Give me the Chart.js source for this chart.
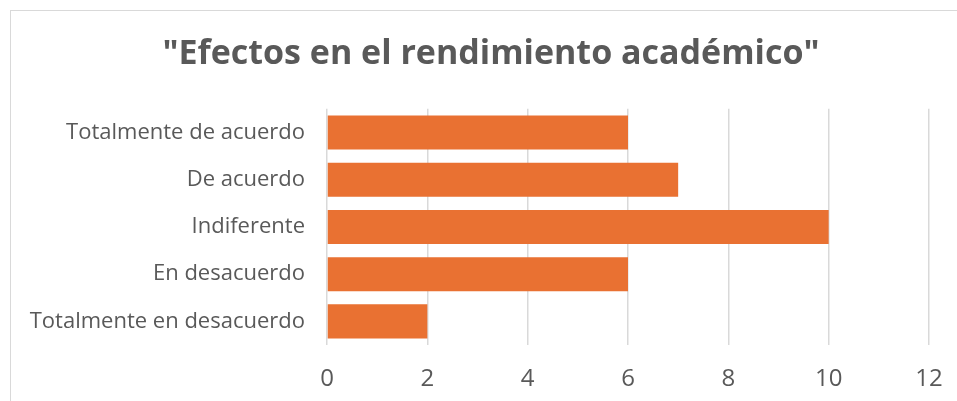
<!DOCTYPE html>
<html>
<head>
<meta charset="utf-8">
<script src="https://cdn.jsdelivr.net/npm/chart.js@4"></script>
<style>
  html, body { margin: 0; padding: 0; background: #fff; }
  #frame {
    position: absolute; left: 10px; top: 10px; width: 960px; height: 400px;
    border-left: 1px solid #d9d9d9; border-top: 1px solid #d9d9d9;
  }
  #wrap { position: absolute; left: 0; top: 0; width: 957px; height: 401px; }
</style>
</head>
<body>
<div id="frame"></div>
<div id="wrap"><canvas id="chart" width="957" height="401"></canvas></div>
<script>
const categories = [
  "Totalmente de acuerdo",
  "De acuerdo",
  "Indiferente",
  "En desacuerdo",
  "Totalmente en desacuerdo",
];
const counts = [6, 7, 10, 6, 2];
const xMin = 0;
const xMax = 12;
const xStep = 2;

const textColor = "#595959";
const gridColor = "#d9d9d9";

new Chart(document.getElementById("chart").getContext("2d"), {
  type: "bar",
  data: {
    labels: categories,
    datasets: [
      {
        label: "Respuestas",
        data: counts,
        backgroundColor: "#e97132",
        barPercentage: 0.72,
        categoryPercentage: 1,
      },
    ],
  },
  options: {
    indexAxis: "y",
    responsive: false,
    animation: false,
    layout: { padding: { left: 25, right: 0, top: 0, bottom: 0 } },
    scales: {
      x: {
        min: xMin,
        max: xMax,
        ticks: {
          stepSize: xStep,
          padding: 20,
          color: textColor,
          font: { family: "Open Sans", size: 24 },
        },
        grid: { color: gridColor, lineWidth: 1.5, drawTicks: false },
        border: { display: false },
        afterFit: (scale) => {
          scale.height = 56;
          scale.paddingLeft = 0;
          scale.paddingRight = 28;
        },
      },
      y: {
        ticks: {
          padding: 22,
          color: textColor,
          font: { family: "Open Sans", size: 22 },
        },
        grid: { display: false, drawTicks: false },
        border: { display: false },
        afterFit: (scale) => {
          scale.width = 302;
        },
      },
    },
    plugins: {
      legend: { display: false },
      tooltip: { enabled: false },
      title: {
        display: true,
        text: "\"Efectos en el rendimiento académico\"",
        color: textColor,
        font: { family: "Open Sans", size: 34, weight: "bold" },
        padding: { top: 34, bottom: 34 },
      },
    },
  },
});
</script>
</body>
</html>
